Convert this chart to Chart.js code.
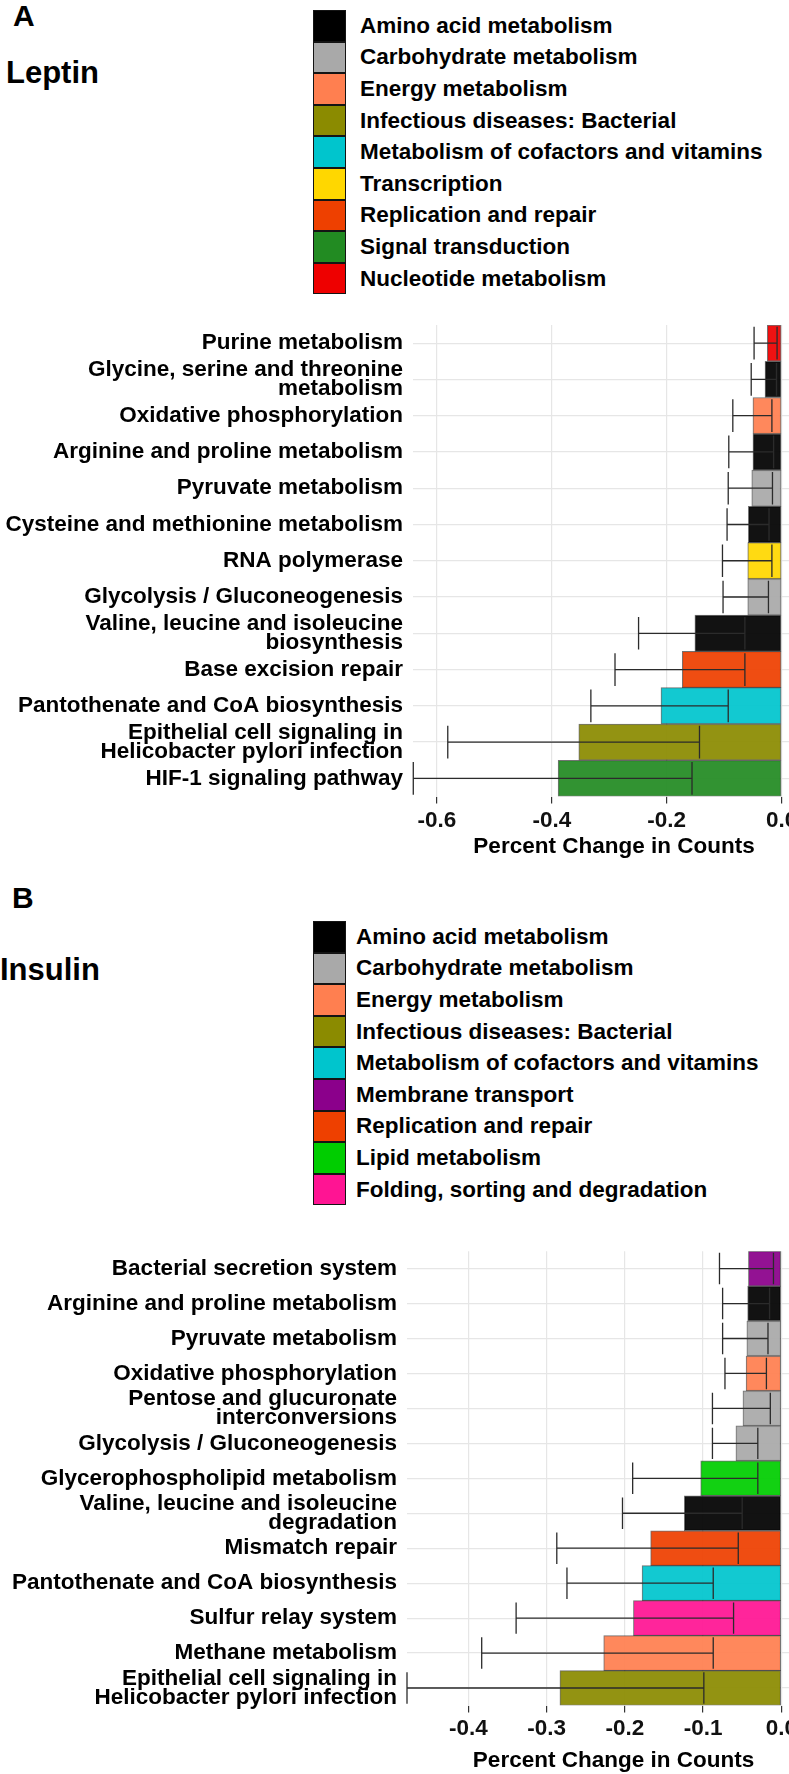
<!DOCTYPE html>
<html>
<head>
<meta charset="utf-8">
<title>Leptin / Insulin pathway changes</title>
<script src="https://cdn.jsdelivr.net/npm/chart.js@4.4.1/dist/chart.umd.min.js"></script>
<style>
  html, body { margin: 0; padding: 0; background: #fff; }
  body { position: relative; width: 789px; height: 1774px; overflow: hidden; }
  .tag { position: absolute; font-family: "Liberation Sans", Arial, sans-serif; font-weight: bold; color: #000; line-height: 1; white-space: nowrap; }
  .legend { position: absolute; font-family: "Liberation Sans", Arial, sans-serif; font-weight: bold; font-size: 22.5px; color: #000; }
  .legend .row { display: flex; align-items: center; white-space: nowrap; }
  .legend .key { box-sizing: border-box; width: 33px; height: 100%; border: 1.5px solid #141414; flex: none; }
  .panel { position: absolute; left: 0; width: 830px; }
</style>
</head>
<body>

<div class="tag" style="left:13px; top:1px; font-size:30px;">A</div>
<div class="tag" style="left:6px; top:57px; font-size:31px;">Leptin</div>
<div class="legend" id="legendA" style="left:313px; top:10px;"></div>
<div class="panel" style="top:300px; height:560px;"><canvas id="chartA"></canvas></div>

<div class="tag" style="left:12px; top:883px; font-size:30px;">B</div>
<div class="tag" style="left:0px; top:954px; font-size:31px;">Insulin</div>
<div class="legend" id="legendB" style="left:313px; top:921px;"></div>
<div class="panel" style="top:1222px; height:552px;"><canvas id="chartB"></canvas></div>

<script>
// Pathway class colours
const classColors = {
  'Amino acid metabolism': '#000000',
  'Carbohydrate metabolism': '#A9A9A9',
  'Energy metabolism': '#FF7F50',
  'Infectious diseases: Bacterial': '#8B8B00',
  'Metabolism of cofactors and vitamins': '#00C5CD',
  'Transcription': '#FFD700',
  'Replication and repair': '#EE4000',
  'Signal transduction': '#228B22',
  'Nucleotide metabolism': '#EE0000',
  'Membrane transport': '#8B008B',
  'Lipid metabolism': '#00CD00',
  'Folding, sorting and degradation': '#FF1493'
};

// ---- Panel A: Leptin ----
const legendA = ['Amino acid metabolism', 'Carbohydrate metabolism', 'Energy metabolism',
  'Infectious diseases: Bacterial', 'Metabolism of cofactors and vitamins', 'Transcription',
  'Replication and repair', 'Signal transduction', 'Nucleotide metabolism'];

const pathwaysA = [
  'Purine metabolism',
  ['Glycine, serine and threonine', 'metabolism'],
  'Oxidative phosphorylation',
  'Arginine and proline metabolism',
  'Pyruvate metabolism',
  'Cysteine and methionine metabolism',
  'RNA polymerase',
  'Glycolysis / Gluconeogenesis',
  ['Valine, leucine and isoleucine', 'biosynthesis'],
  'Base excision repair',
  'Pantothenate and CoA biosynthesis',
  ['Epithelial cell signaling in', 'Helicobacter pylori infection'],
  'HIF-1 signaling pathway'
];
const classA = ['Nucleotide metabolism', 'Amino acid metabolism', 'Energy metabolism',
  'Amino acid metabolism', 'Carbohydrate metabolism', 'Amino acid metabolism', 'Transcription',
  'Carbohydrate metabolism', 'Amino acid metabolism', 'Replication and repair',
  'Metabolism of cofactors and vitamins', 'Infectious diseases: Bacterial', 'Signal transduction'];
const changeA = [-0.025, -0.029, -0.050, -0.050, -0.052, -0.058, -0.059, -0.059, -0.151, -0.173, -0.210, -0.353, -0.389];
const lowerA  = [-0.048, -0.053, -0.085, -0.092, -0.093, -0.095, -0.103, -0.102, -0.249, -0.290, -0.332, -0.581, -0.641];
const upperA  = [-0.008, -0.009, -0.017, -0.014, -0.016, -0.022, -0.017, -0.023, -0.064, -0.064, -0.093, -0.143, -0.156];
const ticksA  = [-0.6, -0.4, -0.2, 0.0];

// ---- Panel B: Insulin ----
const legendB = ['Amino acid metabolism', 'Carbohydrate metabolism', 'Energy metabolism',
  'Infectious diseases: Bacterial', 'Metabolism of cofactors and vitamins', 'Membrane transport',
  'Replication and repair', 'Lipid metabolism', 'Folding, sorting and degradation'];

const pathwaysB = [
  'Bacterial secretion system',
  'Arginine and proline metabolism',
  'Pyruvate metabolism',
  'Oxidative phosphorylation',
  ['Pentose and glucuronate', 'interconversions'],
  'Glycolysis / Gluconeogenesis',
  'Glycerophospholipid metabolism',
  ['Valine, leucine and isoleucine', 'degradation'],
  'Mismatch repair',
  'Pantothenate and CoA biosynthesis',
  'Sulfur relay system',
  'Methane metabolism',
  ['Epithelial cell signaling in', 'Helicobacter pylori infection']
];
const classB = ['Membrane transport', 'Amino acid metabolism', 'Carbohydrate metabolism',
  'Energy metabolism', 'Carbohydrate metabolism', 'Carbohydrate metabolism', 'Lipid metabolism',
  'Amino acid metabolism', 'Replication and repair', 'Metabolism of cofactors and vitamins',
  'Folding, sorting and degradation', 'Energy metabolism', 'Infectious diseases: Bacterial'];
const changeB = [-0.042, -0.043, -0.044, -0.045, -0.049, -0.058, -0.103, -0.124, -0.167, -0.178, -0.189, -0.227, -0.283];
const lowerB  = [-0.079, -0.075, -0.075, -0.072, -0.088, -0.088, -0.190, -0.203, -0.287, -0.274, -0.339, -0.383, -0.4785];
const upperB  = [-0.010, -0.015, -0.017, -0.019, -0.014, -0.030, -0.030, -0.050, -0.055, -0.087, -0.061, -0.087, -0.099];
const ticksB  = [-0.4, -0.3, -0.2, -0.1, 0.0];

const FONT = 'Liberation Sans';

function withAlpha(hex, a) {
  const n = parseInt(hex.slice(1), 16);
  return `rgba(${n >> 16}, ${(n >> 8) & 255}, ${n & 255}, ${a})`;
}

function buildLegend(id, classes, gap) {
  const el = document.getElementById(id);
  el.innerHTML = classes.map(c => `
    <div class="row" style="height:31.6px">
      <div class="key" style="background:${classColors[c]}"></div>
      <span style="margin-left:${gap}px">${c}</span>
    </div>`).join('');
}

// error bars: line from lower to upper with a cap at each end
const errorBars = {
  id: 'errorBars',
  afterDatasetsDraw(chart) {
    const ds = chart.data.datasets[0];
    const { ctx, scales: { x, y } } = chart;
    const half = Math.abs(y.getPixelForValue(1) - y.getPixelForValue(0)) * 0.45;
    ctx.save();
    ctx.strokeStyle = '#2b2b2b';
    ctx.lineWidth = 1.3;
    ds.errLo.forEach((lo, i) => {
      const yc = y.getPixelForValue(i);
      const x1 = x.getPixelForValue(lo);
      const x2 = x.getPixelForValue(ds.errHi[i]);
      ctx.beginPath();
      ctx.moveTo(x1, yc); ctx.lineTo(x2, yc);
      ctx.moveTo(x1, yc - half); ctx.lineTo(x1, yc + half);
      ctx.moveTo(x2, yc - half); ctx.lineTo(x2, yc + half);
      ctx.stroke();
    });
    ctx.restore();
  }
};

function makeChart(id, cfg) {
  return new Chart(document.getElementById(id), {
    type: 'bar',
    data: {
      labels: cfg.labels,
      datasets: [{
        data: cfg.values,
        errLo: cfg.lo,
        errHi: cfg.hi,
        backgroundColor: cfg.classes.map(c => withAlpha(classColors[c], 0.93)),
        borderColor: 'rgba(0,0,0,0.55)',
        borderWidth: 1,
        borderSkipped: false,
        categoryPercentage: 1,
        barPercentage: 1
      }]
    },
    options: {
      indexAxis: 'y',
      responsive: true,
      maintainAspectRatio: false,
      animation: false,
      layout: { padding: { top: cfg.padTop, right: cfg.padRight, left: 0, bottom: 0 } },
      plugins: { legend: { display: false }, tooltip: { enabled: false } },
      scales: {
        x: {
          min: cfg.min,
          max: cfg.max,
          afterBuildTicks: s => { s.ticks = cfg.ticks.map(v => ({ value: v })); },
          afterFit: s => { s.height = cfg.xHeight; },
          border: { display: false },
          grid: { color: '#e6e6e6', lineWidth: 1.2, tickColor: '#333', tickLength: 7 },
          ticks: {
            autoSkip: false,
            maxRotation: 0,
            padding: cfg.tickPad,
            color: '#111',
            font: { family: FONT, size: 22.5, weight: 'bold', lineHeight: 1.2 },
            callback: v => Number(v).toFixed(1)
          },
          title: {
            display: true,
            text: 'Percent Change in Counts',
            color: '#000',
            padding: 0,
            font: { family: FONT, size: 22.5, weight: 'bold', lineHeight: 1.2 }
          }
        },
        y: {
          afterFit: s => { s.width = cfg.yWidth; },
          border: { display: false },
          grid: { offset: false, color: '#e6e6e6', lineWidth: 1.2, drawTicks: false },
          ticks: {
            autoSkip: false,
            padding: 10,
            color: '#000',
            font: { family: FONT, size: 22.5, weight: 'bold', lineHeight: 0.85 }
          }
        }
      }
    },
    plugins: [errorBars]
  });
}

buildLegend('legendA', legendA, 14);
buildLegend('legendB', legendB, 10);

makeChart('chartA', {
  labels: pathwaysA, classes: classA, values: changeA, lo: lowerA, hi: upperA, ticks: ticksA,
  min: -0.6415, max: 0.058, padTop: 25, padRight: 15, yWidth: 413, xHeight: 63.5, tickPad: 3.5
});
makeChart('chartB', {
  labels: pathwaysB, classes: classB, values: changeB, lo: lowerB, hi: upperB, ticks: ticksB,
  min: -0.4785, max: 0.0495, padTop: 25.3, padRight: 10, yWidth: 407, xHeight: 68.5, tickPad: 2.8
});
</script>
</body>
</html>
